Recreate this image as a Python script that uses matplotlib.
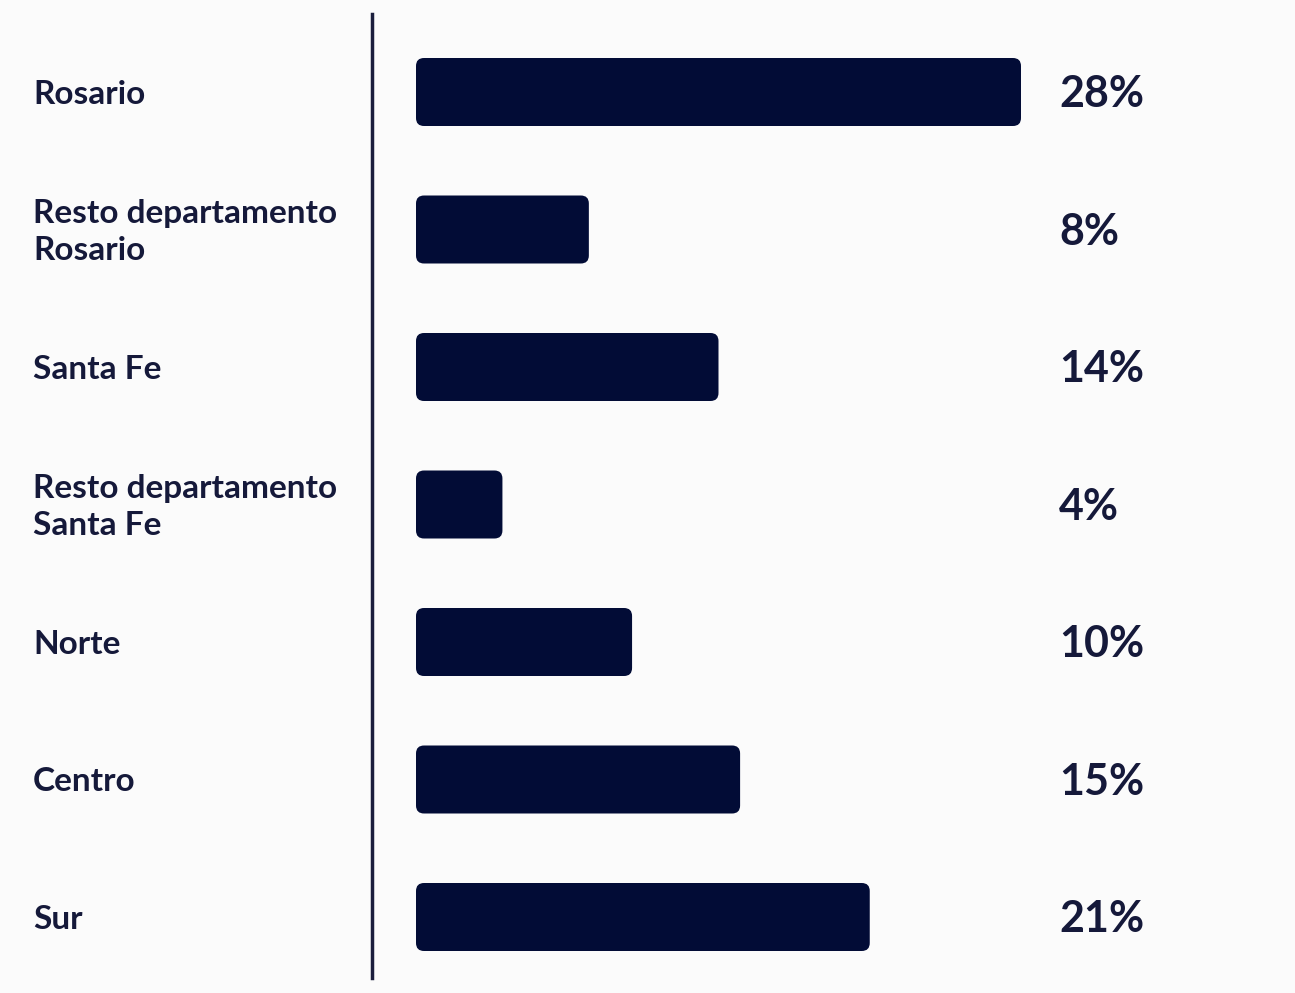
import matplotlib.pyplot as plt
from matplotlib.patches import FancyBboxPatch
from matplotlib.transforms import blended_transform_factory, offset_copy

# datos
regiones = ['Rosario', 'Resto departamento\nRosario', 'Santa Fe',
            'Resto departamento\nSanta Fe', 'Norte', 'Centro', 'Sur']
porcentajes = [28, 8, 14, 4, 10, 15, 21]
etiquetas = ['28%', '8%', '14%', '4%', '10%', '15%', '21%']

W, H = 1295, 993
navy = '#020c36'
txt = '#15193a'

fig = plt.figure(figsize=(W / 100, H / 100), dpi=100, facecolor='#fbfbfb')
ax = fig.add_axes([0, 0, 1, 1])
ax.set_facecolor('#fbfbfb')
ax.axis('off')

# escalas: 0% en x=416px, 28% en x=1021px; filas cada 137.5px desde y=92px
px_x = (1021 - 416) / 28
px_y = 137.5
ax.set_xlim(-416 / px_x, (W - 416) / px_x)
ax.set_ylim(6 + (H - 917) / px_y, -92 / px_y)

alto = 68 / px_y
radio = 8 / px_x
for i, v in enumerate(porcentajes):
    bar = FancyBboxPatch((0, i - alto / 2), v, alto,
                         boxstyle=f'round,pad=0,rounding_size={radio}',
                         mutation_aspect=px_x / px_y,
                         facecolor=navy, edgecolor='none')
    ax.add_patch(bar)

tr = blended_transform_factory(fig.transFigure, ax.transData)
tr = offset_copy(tr, fig=fig, y=-1.5, units='points')
for i, (r, e) in enumerate(zip(regiones, etiquetas)):
    ax.text(33 / W, i, r, transform=tr, ha='left', va='center',
            fontsize=24, fontweight='bold', family='Lato', color=txt,
            linespacing=1.33)
    ax.text(1059 / W, i, e, transform=tr, ha='left', va='center',
            fontsize=31, fontweight='bold', family='Lato', color=txt)

ax.axvline((372 - 416) / px_x, ymin=1 - 978 / H, ymax=1 - 14 / H,
           color='#1b1e3d', lw=2.5)

fig.savefig('out.png', dpi=100, facecolor=fig.get_facecolor())
